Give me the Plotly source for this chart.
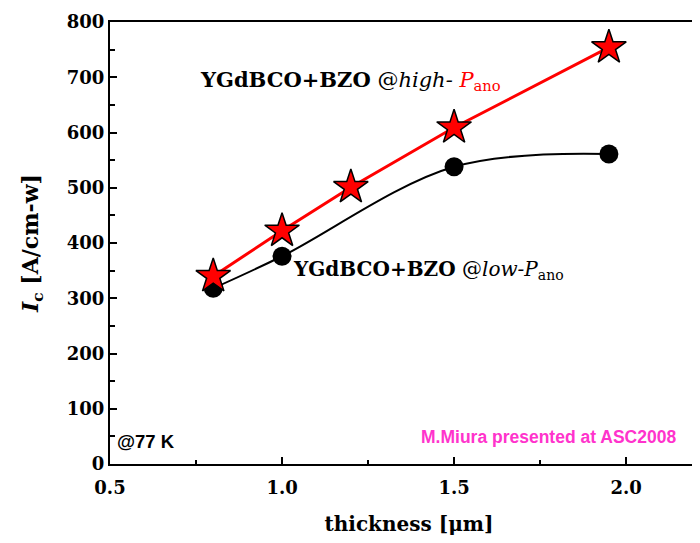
import plotly.graph_objects as go

# Data
thickness_high = [0.8, 1.0, 1.2, 1.5, 1.95]
ic_high = [340, 422, 501, 609, 754]
thickness_low = [0.8, 1.0, 1.5, 1.95]
ic_low = [318, 376, 538, 561]

x_ticks = [0.5, 1.0, 1.5, 2.0]
x_tick_labels = ["0.5", "1.0", "1.5", "2.0"]
y_ticks = [0, 100, 200, 300, 400, 500, 600, 700, 800]

SERIF = "DejaVu Serif"

fig = go.Figure()
fig.add_trace(go.Scatter(
    x=thickness_low, y=ic_low, mode="lines+markers",
    line=dict(color="black", width=2, shape="spline", smoothing=1.0),
    marker=dict(symbol="circle", size=19, color="black"),
    showlegend=False,
))
fig.add_trace(go.Scatter(
    x=thickness_high, y=ic_high, mode="lines+markers",
    line=dict(color="#ff0000", width=3),
    marker=dict(symbol="star", size=26, color="#ff0000",
                line=dict(color="black", width=1.5)),
    showlegend=False,
))

fig.add_annotation(
    x=0.747, y=695, xanchor="left", yanchor="middle", showarrow=False,
    text="<b>YGdBCO+BZO</b> @<i>high-</i> <span style='color:#ff0000'><i>P</i><sub>ano</sub></span>",
    font=dict(family=SERIF, size=21, color="black"),
    bgcolor="white", borderpad=4,
)
fig.add_annotation(
    x=1.026, y=351, xanchor="left", yanchor="middle", showarrow=False,
    text="<b>YGdBCO+BZO</b> @<i>low-P</i><sub>ano</sub>",
    font=dict(family=SERIF, size=20, color="black"),
)
fig.add_annotation(
    x=0.515, y=40, xanchor="left", yanchor="middle", showarrow=False,
    text="<b>@77 K</b>",
    font=dict(family="Liberation Sans", size=18.5, color="black"),
)
fig.add_annotation(
    x=2.151, y=48, xanchor="right", yanchor="middle", showarrow=False,
    text="<b>M.Miura presented at ASC2008</b>",
    font=dict(family="Liberation Sans", size=17.5, color="#ff33cc"),
)

fig.update_xaxes(
    range=[0.5, 2.238], tickvals=x_ticks, ticktext=x_tick_labels,
    showline=True, linecolor="black", linewidth=2, mirror=True,
    ticks="inside", ticklen=7, tickwidth=2, tickcolor="black",
    minor=dict(ticks="inside", dtick=0.25, ticklen=4, tickwidth=2, tickcolor="black"),
    showgrid=False, zeroline=False, automargin=False,
    ticklabelstandoff=6,
    tickfont=dict(family=SERIF, size=18, color="black", weight="bold"),
    title=dict(text="thickness [μm]", standoff=20,
               font=dict(family=SERIF, size=20, color="black", weight="bold")),
)
fig.update_yaxes(
    range=[0, 800], tickvals=y_ticks,
    showline=True, linecolor="black", linewidth=2,
    ticks="inside", ticklen=7, tickwidth=2, tickcolor="black",
    minor=dict(ticks="inside", dtick=50, ticklen=5, tickwidth=2, tickcolor="black"),
    showgrid=False, zeroline=False, automargin=False,
    tickfont=dict(family=SERIF, size=18, color="black", weight="bold"),
    title=dict(text="<i>I</i><sub>c</sub> [A/cm-w]", standoff=22,
               font=dict(family=SERIF, size=22, color="black", weight="bold")),
)

fig.update_layout(
    width=700, height=543,
    margin=dict(l=102, r=0, t=14, b=87),
    paper_bgcolor="white", plot_bgcolor="white",
)

fig.write_html("out.html")
